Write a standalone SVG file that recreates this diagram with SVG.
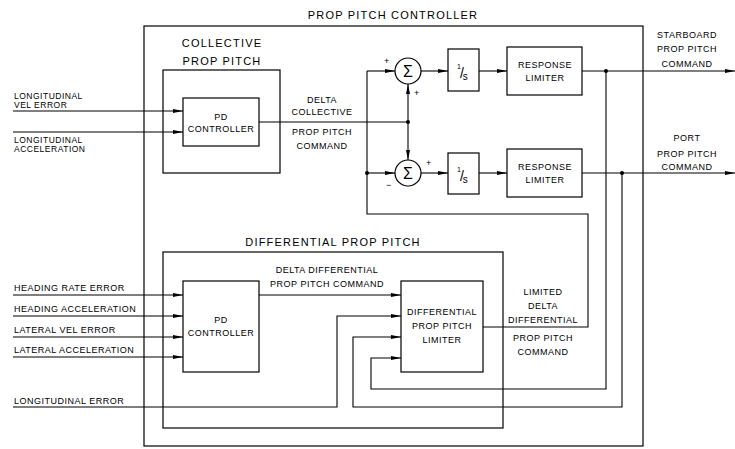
<svg xmlns="http://www.w3.org/2000/svg" width="735" height="449" viewBox="0 0 735 449">
<defs>
<marker id="ar" viewBox="0 0 10 6" refX="10" refY="3" markerWidth="10" markerHeight="6" markerUnits="userSpaceOnUse" orient="auto">
<path d="M0,1 L10,3 L0,5 Z" fill="#000"/>
</marker>
<style>
.bx{fill:none;stroke:#000;stroke-width:1.2}
.ln{fill:none;stroke:#000;stroke-width:1.1}
.ar{marker-end:url(#ar)}
text{font-family:"Liberation Sans",Arial,sans-serif;fill:#000;font-size:9px;letter-spacing:0.5px}
.c{text-anchor:middle}
.t{font-size:11px;letter-spacing:1.2px}
.s{font-size:8.5px}
.dot{fill:#000}
</style>
</defs>
<rect width="735" height="449" fill="#fff"/>

<g id="controller">
<rect class="bx" x="144" y="26" width="499" height="420"/>
<text class="t c" x="393" y="19">PROP PITCH CONTROLLER</text>
</g>

<g id="collective">
<rect class="bx" x="163" y="70" width="117" height="103"/>
<text class="t c" x="222" y="47">COLLECTIVE</text>
<text class="t c" x="222" y="65">PROP PITCH</text>
</g>

<g id="pd1">
<rect class="bx" x="183" y="98" width="76" height="48"/>
<text class="c" x="221" y="120">PD</text>
<text class="c" x="221" y="132">CONTROLLER</text>
</g>

<g id="sum1">
<circle class="bx" cx="408" cy="71" r="13"/>
<text class="c" x="408" y="77" style="font-size:16px;letter-spacing:0">Σ</text>
</g>
<g id="sum2">
<circle class="bx" cx="408" cy="173" r="13"/>
<text class="c" x="408" y="179" style="font-size:16px;letter-spacing:0">Σ</text>
</g>

<g id="int1">
<rect class="bx" x="448" y="49" width="31" height="42"/>
<text x="457" y="69" style="font-size:7px;letter-spacing:0">1<tspan dy="9" dx="-1" style="font-size:14px">/</tspan><tspan dy="2" dx="-1" style="font-size:10px">s</tspan></text>
</g>
<g id="int2">
<rect class="bx" x="448" y="153" width="31" height="41"/>
<text x="457" y="172" style="font-size:7px;letter-spacing:0">1<tspan dy="9" dx="-1" style="font-size:14px">/</tspan><tspan dy="2" dx="-1" style="font-size:10px">s</tspan></text>
</g>

<g id="rl1">
<rect class="bx" x="507" y="47" width="75" height="48"/>
<text class="c" x="545" y="68">RESPONSE</text>
<text class="c" x="545" y="81">LIMITER</text>
</g>
<g id="rl2">
<rect class="bx" x="507" y="149" width="75" height="48"/>
<text class="c" x="545" y="170">RESPONSE</text>
<text class="c" x="545" y="183">LIMITER</text>
</g>

<g id="differential">
<rect class="bx" x="163" y="252" width="340" height="176"/>
<text class="t c" x="333" y="246">DIFFERENTIAL PROP PITCH</text>
</g>

<g id="pd2">
<rect class="bx" x="183" y="281" width="76" height="91"/>
<text class="c" x="221" y="323">PD</text>
<text class="c" x="221" y="336">CONTROLLER</text>
</g>

<g id="dlim">
<rect class="bx" x="401" y="281" width="82" height="91"/>
<text class="c" x="442" y="315">DIFFERENTIAL</text>
<text class="c" x="442" y="329">PROP PITCH</text>
<text class="c" x="442" y="343">LIMITER</text>
</g>

<g id="connectors">
<line class="ln ar" x1="13" y1="111" x2="183" y2="111"/>
<line class="ln ar" x1="13" y1="132" x2="183" y2="132"/>
<polyline class="ln" points="259,122 408,122"/>
<line class="ln ar" x1="408" y1="122" x2="408" y2="84"/>
<line class="ln ar" x1="408" y1="122" x2="408" y2="160"/>
<circle class="dot" cx="408" cy="122" r="2"/>
<line class="ln ar" x1="367" y1="71" x2="395" y2="71"/>
<line class="ln ar" x1="367" y1="173" x2="395" y2="173"/>
<circle class="dot" cx="367" cy="173" r="2"/>
<polyline class="ln" points="483,327 588,327 588,214 367,214 367,71"/>
<line class="ln ar" x1="421" y1="71" x2="448" y2="71"/>
<line class="ln ar" x1="421" y1="173" x2="448" y2="173"/>
<line class="ln ar" x1="479" y1="71" x2="507" y2="71"/>
<line class="ln ar" x1="479" y1="173" x2="507" y2="173"/>
<line class="ln ar" x1="582" y1="71" x2="735" y2="71"/>
<line class="ln ar" x1="582" y1="173" x2="735" y2="173"/>
<circle class="dot" cx="606" cy="71" r="2"/>
<circle class="dot" cx="622" cy="173" r="2"/>
<polyline class="ln ar" points="606,71 606,389 371,389 371,358 401,358"/>
<polyline class="ln ar" points="622,173 622,407 353,407 353,337 401,337"/>
<line class="ln ar" x1="13" y1="295" x2="183" y2="295"/>
<line class="ln ar" x1="13" y1="316" x2="183" y2="316"/>
<line class="ln ar" x1="13" y1="337" x2="183" y2="337"/>
<line class="ln ar" x1="13" y1="357" x2="183" y2="357"/>
<line class="ln ar" x1="259" y1="295" x2="401" y2="295"/>
<polyline class="ln ar" points="13,407 337,407 337,316 401,316"/>
</g>

<g id="labels">
<text class="s" x="14" y="99">LONGITUDINAL</text>
<text class="s" x="14" y="108">VEL ERROR</text>
<text class="s" x="14" y="143">LONGITUDINAL</text>
<text class="s" x="14" y="152">ACCELERATION</text>
<text class="c" x="322" y="103">DELTA</text>
<text class="c" x="322" y="115">COLLECTIVE</text>
<text class="c" x="322" y="135">PROP PITCH</text>
<text class="c" x="322" y="149">COMMAND</text>
<text x="384" y="64">+</text>
<text x="414" y="96">+</text>
<text x="426" y="166">+</text>
<text x="386" y="188">−</text>
<text class="c" x="687" y="38">STARBOARD</text>
<text class="c" x="687" y="52">PROP PITCH</text>
<text class="c" x="687" y="67">COMMAND</text>
<text class="c" x="687" y="141">PORT</text>
<text class="c" x="687" y="157">PROP PITCH</text>
<text class="c" x="687" y="170">COMMAND</text>
<text x="14" y="291">HEADING RATE ERROR</text>
<text x="14" y="312">HEADING ACCELERATION</text>
<text x="14" y="333">LATERAL VEL ERROR</text>
<text x="14" y="353">LATERAL ACCELERATION</text>
<text x="14" y="404">LONGITUDINAL ERROR</text>
<text class="c" x="327" y="273">DELTA DIFFERENTIAL</text>
<text class="c" x="327" y="287">PROP PITCH COMMAND</text>
<text class="c" x="543" y="295">LIMITED</text>
<text class="c" x="543" y="309">DELTA</text>
<text class="c" x="543" y="323">DIFFERENTIAL</text>
<text class="c" x="543" y="341">PROP PITCH</text>
<text class="c" x="543" y="355">COMMAND</text>
</g>
</svg>
